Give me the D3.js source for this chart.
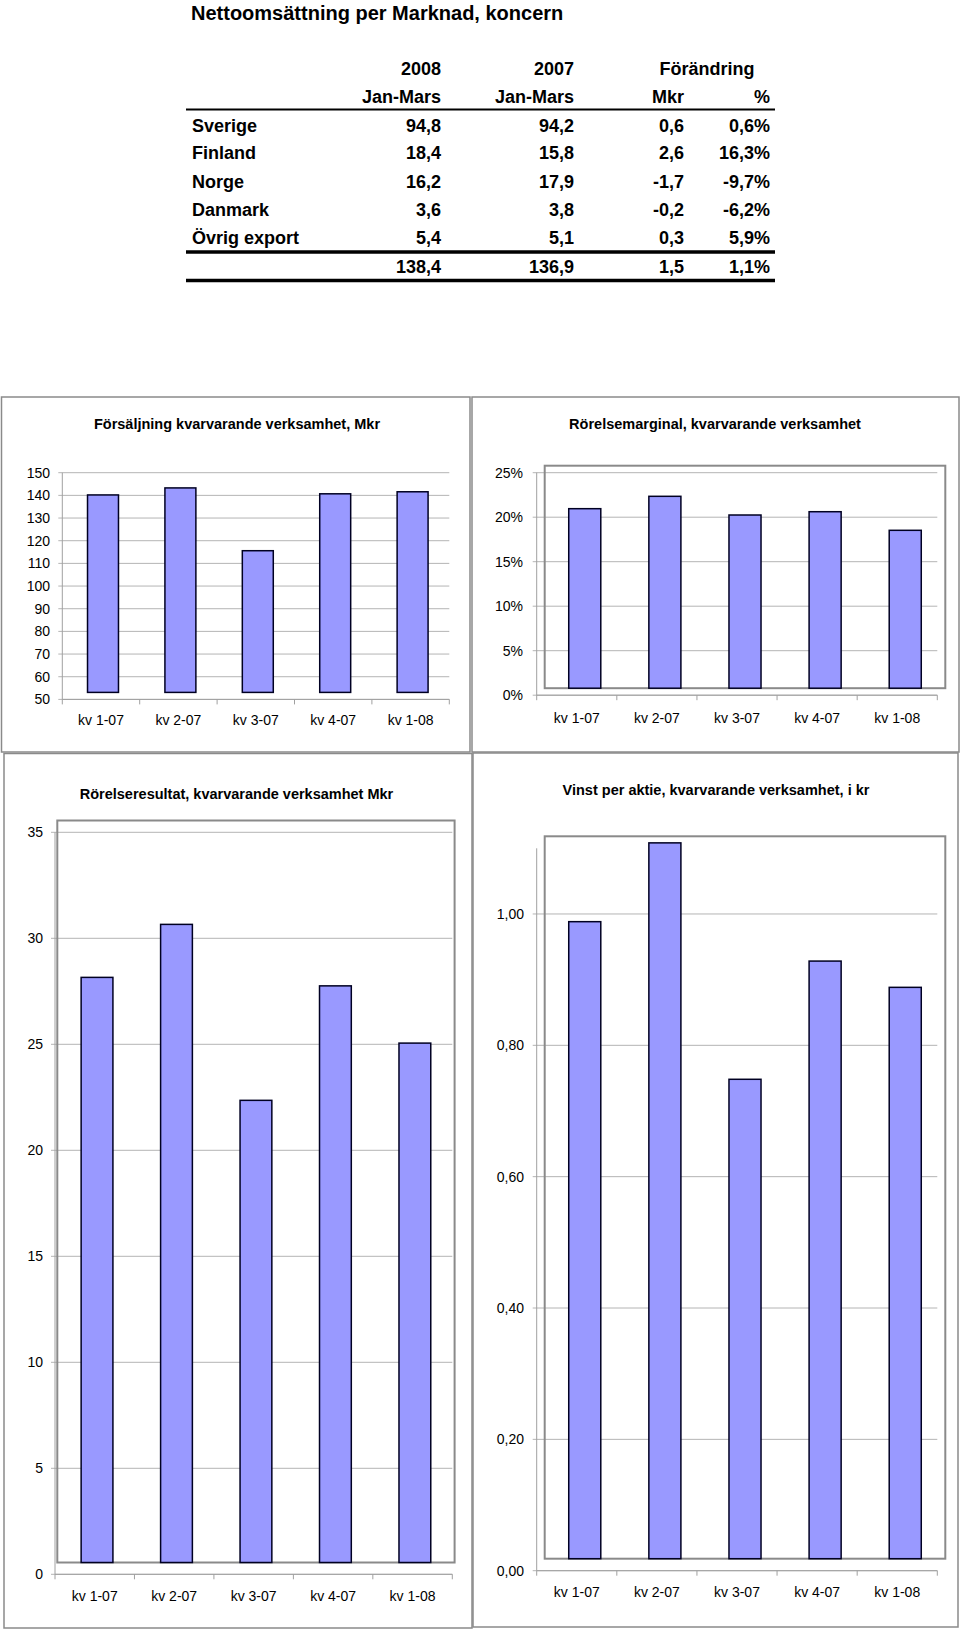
<!DOCTYPE html>
<html>
<head>
<meta charset="utf-8">
<script src="https://cdn.jsdelivr.net/npm/d3@7"></script>
<style>
  html, body { margin: 0; padding: 0; background: #fff; }
  svg { display: block; font-family: "Liberation Sans", Arial, sans-serif; }
</style>
</head>
<body>
<svg id="chart" width="960" height="1630"></svg>
<script>
// ---------- DATA ----------
const tableTitle = "Nettoomsättning per Marknad, koncern";
const headerRow1 = ["2008", "2007", "Förändring"];
const headerRow2 = ["Jan-Mars", "Jan-Mars", "Mkr", "%"];
const markets = ["Sverige", "Finland", "Norge", "Danmark", "Övrig export"];
const sales2008 = ["94,8", "18,4", "16,2", "3,6", "5,4"];
const sales2007 = ["94,2", "15,8", "17,9", "3,8", "5,1"];
const changeMkr = ["0,6", "2,6", "-1,7", "-0,2", "0,3"];
const changePct = ["0,6%", "16,3%", "-9,7%", "-6,2%", "5,9%"];
const totalRow = ["138,4", "136,9", "1,5", "1,1%"];

const categories = ["kv 1-07", "kv 2-07", "kv 3-07", "kv 4-07", "kv 1-08"];

const salesTitle = "Försäljning kvarvarande verksamhet, Mkr";
const salesValues = [137.1, 140.2, 112.5, 137.6, 138.5];
const salesTicks = [50, 60, 70, 80, 90, 100, 110, 120, 130, 140, 150];

const marginTitle = "Rörelsemarginal, kvarvarande verksamhet";
const marginValues = [0.2017, 0.2156, 0.1946, 0.1983, 0.1774];
const marginTicks = [0, 0.05, 0.10, 0.15, 0.20, 0.25];

const resultTitle = "Rörelseresultat, kvarvarande verksamhet Mkr";
const resultValues = [27.6, 30.1, 21.8, 27.2, 24.5];
const resultTicks = [0, 5, 10, 15, 20, 25, 30, 35];

const epsTitle = "Vinst per aktie, kvarvarande verksamhet, i kr";
const epsValues = [0.970, 1.090, 0.730, 0.910, 0.870];
const epsTicks = [0, 0.2, 0.4, 0.6, 0.8, 1.0];

// ---------- DRAW ----------
const svg = d3.select("#chart");

// Table
const tbl = svg.append("g").attr("font-weight", "bold").attr("fill", "#000");
tbl.append("text").attr("x", 191).attr("y", 20).attr("font-size", 20).text(tableTitle);

const colRight = [441, 574, 684, 770];
const rowY = [132, 159, 188, 216, 244];
const fs = 18;

tbl.append("text").attr("x", colRight[0]).attr("y", 75).attr("font-size", fs).attr("text-anchor", "end").text(headerRow1[0]);
tbl.append("text").attr("x", colRight[1]).attr("y", 75).attr("font-size", fs).attr("text-anchor", "end").text(headerRow1[1]);
tbl.append("text").attr("x", 707).attr("y", 75).attr("font-size", fs).attr("text-anchor", "middle").text(headerRow1[2]);
headerRow2.forEach((h, i) => {
  tbl.append("text").attr("x", colRight[i]).attr("y", 103).attr("font-size", fs).attr("text-anchor", "end").text(h);
});

markets.forEach((m, i) => {
  tbl.append("text").attr("x", 192).attr("y", rowY[i]).attr("font-size", fs).text(m);
  [sales2008[i], sales2007[i], changeMkr[i], changePct[i]].forEach((v, j) => {
    tbl.append("text").attr("x", colRight[j]).attr("y", rowY[i]).attr("font-size", fs).attr("text-anchor", "end").text(v);
  });
});
totalRow.forEach((v, j) => {
  tbl.append("text").attr("x", colRight[j]).attr("y", 273).attr("font-size", fs).attr("text-anchor", "end").text(v);
});

svg.append("line").attr("x1", 186).attr("x2", 775).attr("y1", 109.5).attr("y2", 109.5).attr("stroke", "#000").attr("stroke-width", 2);
svg.append("line").attr("x1", 186).attr("x2", 775).attr("y1", 252).attr("y2", 252).attr("stroke", "#000").attr("stroke-width", 3.5);
svg.append("line").attr("x1", 186).attr("x2", 775).attr("y1", 280.5).attr("y2", 280.5).attr("stroke", "#000").attr("stroke-width", 3.5);

// Chart helper
function drawChart(cfg) {
  const g = svg.append("g");
  // outer frame
  g.append("rect")
    .attr("x", cfg.frame[0]).attr("y", cfg.frame[1])
    .attr("width", cfg.frame[2] - cfg.frame[0]).attr("height", cfg.frame[3] - cfg.frame[1])
    .attr("fill", "#fff").attr("stroke", "#8a8a8a").attr("stroke-width", 1.5);

  g.append("text")
    .attr("x", cfg.titleX).attr("y", cfg.titleY)
    .attr("text-anchor", "middle").attr("font-weight", "bold").attr("font-size", 14.5)
    .attr("fill", "#000").text(cfg.title);

  const y = d3.scaleLinear().domain(cfg.domain).range([cfg.yBottom, cfg.yTop]);
  const x = d3.scaleBand().domain(categories).range([cfg.axisX, cfg.gridEnd])
    .paddingInner(0.6).paddingOuter(0.3);

  // gridlines + left tick marks
  g.append("g").selectAll("line").data(cfg.ticks).join("line")
    .attr("x1", cfg.axisX - 4).attr("x2", cfg.gridEnd)
    .attr("y1", d => y(d)).attr("y2", d => y(d))
    .attr("stroke", "#b4b4b4").attr("stroke-width", 1);

  // y labels
  g.append("g").selectAll("text").data(cfg.ticks).join("text")
    .attr("x", cfg.axisX - cfg.labelGap).attr("y", d => y(d)).attr("dy", "0.36em")
    .attr("text-anchor", "end").attr("font-size", 14).attr("fill", "#000")
    .text(cfg.fmt);

  // y axis line
  g.append("line").attr("x1", cfg.axisX).attr("x2", cfg.axisX)
    .attr("y1", y(cfg.domain[1])).attr("y2", y(cfg.domain[0]))
    .attr("stroke", "#a0a0a0").attr("stroke-width", 1);

  // x axis line + ticks at band boundaries
  const yb = y(cfg.domain[0]);
  g.append("line").attr("x1", cfg.axisX).attr("x2", cfg.gridEnd)
    .attr("y1", yb).attr("y2", yb).attr("stroke", "#a0a0a0").attr("stroke-width", 1);
  const bounds = d3.range(categories.length + 1).map(i => cfg.axisX + i * x.step());
  g.append("g").selectAll("line").data(bounds).join("line")
    .attr("x1", d => d).attr("x2", d => d).attr("y1", yb).attr("y2", yb + 5)
    .attr("stroke", "#a0a0a0").attr("stroke-width", 1);

  // category labels
  g.append("g").selectAll("text").data(categories).join("text")
    .attr("x", d => x(d) + x.bandwidth() / 2).attr("y", cfg.catY)
    .attr("text-anchor", "middle").attr("font-size", 14).attr("fill", "#000")
    .text(d => d);

  // offset plot-area box
  if (cfg.box) {
    g.append("rect")
      .attr("x", cfg.axisX + cfg.dx).attr("y", y(cfg.domain[1]) - cfg.dy)
      .attr("width", cfg.gridEnd - cfg.axisX).attr("height", y(cfg.domain[0]) - y(cfg.domain[1]))
      .attr("fill", "none").attr("stroke", "#8a8a8a").attr("stroke-width", 2);
  }

  // bars
  g.append("g").selectAll("rect").data(cfg.values).join("rect")
    .attr("x", (d, i) => x(categories[i]) + cfg.dx)
    .attr("y", d => y(d) - cfg.dy)
    .attr("width", x.bandwidth())
    .attr("height", d => y(cfg.domain[0]) - y(d))
    .attr("fill", "#9999ff").attr("stroke", "#000022").attr("stroke-width", 1.5);
}

const fmtComma2 = d => d3.format(".2f")(d).replace(".", ",");

drawChart({
  frame: [1.5, 397, 470, 752],
  title: salesTitle, titleX: 237, titleY: 429,
  domain: [50, 150], ticks: salesTicks, fmt: d => d,
  axisX: 62.3, gridEnd: 449.3, yTop: 472.7, yBottom: 699.4,
  labelGap: 12.3, catY: 725, dx: 2, dy: 7, box: false,
  values: salesValues
});

drawChart({
  frame: [472, 397, 959, 752],
  title: marginTitle, titleX: 715, titleY: 429,
  domain: [0, 0.25], ticks: marginTicks, fmt: d => Math.round(d * 100) + "%",
  axisX: 536.7, gridEnd: 937.3, yTop: 472.7, yBottom: 695.2,
  labelGap: 13.7, catY: 723.3, dx: 8, dy: 7, box: true,
  values: marginValues
});

drawChart({
  frame: [4, 753.5, 472, 1628],
  title: resultTitle, titleX: 236.5, titleY: 799,
  domain: [0, 35], ticks: resultTicks, fmt: d => d,
  axisX: 55, gridEnd: 452.3, yTop: 832.3, yBottom: 1574.3,
  labelGap: 12, catY: 1600.7, dx: 2.3, dy: 11.8, box: true,
  values: resultValues
});

drawChart({
  frame: [473, 753, 958, 1627],
  title: epsTitle, titleX: 716, titleY: 795,
  domain: [0, 1.1], ticks: epsTicks, fmt: fmtComma2,
  axisX: 536.7, gridEnd: 937.3, yTop: 848.3, yBottom: 1570.7,
  labelGap: 12.7, catY: 1597.3, dx: 8, dy: 12, box: true,
  values: epsValues
});
</script>
</body>
</html>
